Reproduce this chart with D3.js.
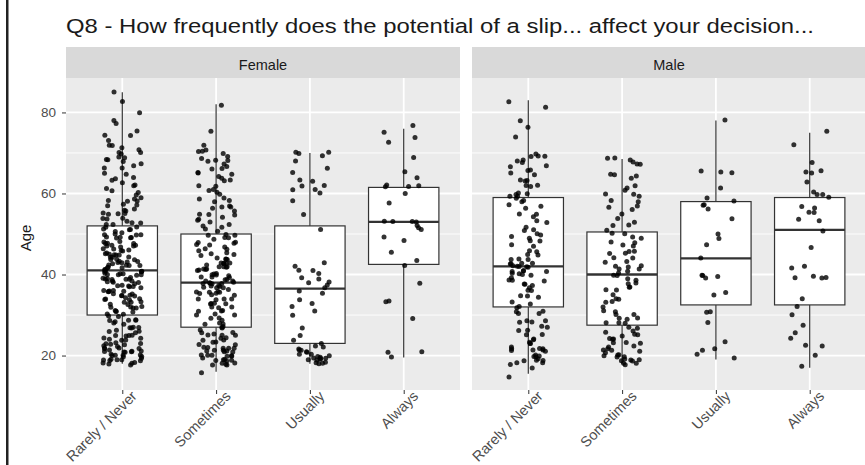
<!DOCTYPE html>
<html>
<head>
<meta charset="utf-8">
<script src="https://cdn.jsdelivr.net/npm/d3@7"></script>
<style>
  html, body { margin: 0; padding: 0; background: #fff; }
  svg { display: block; font-family: "Liberation Sans", Arial, sans-serif; }
</style>
</head>
<body>
<svg id="chart" width="865" height="465"></svg>
<script>
// ---------------- DATA ----------------
const titleText = "Q8 - How frequently does the potential of a slip... affect your decision...";
const facets = ["Female", "Male"];
const categories = ["Rarely / Never", "Sometimes", "Usually", "Always"];
const yTicks = [20, 40, 60, 80];
const yMinorTicks = [30, 50, 70];
const yLabel = "Age";

// Box statistics: [lowerWhisker, Q1, median, Q3, upperWhisker]
const femaleBoxes = [
  [18, 30, 41, 52, 85],
  [16, 27, 38, 50, 82],
  [18, 23, 36.5, 52, 70],
  [19.5, 42.5, 53, 61.5, 76]
];
const maleBoxes = [
  [15.5, 32, 42, 59, 83],
  [18, 27.5, 40, 50.5, 68.5],
  [19, 32.5, 44, 58, 78],
  [17, 32.5, 51, 59, 75]
];

// Individual ages as [age, count]
const femaleRarely = [[18,5],[19,7],[20,7],[21,7],[22,6],[23,5],[24,5],[25,4],[26,4],[27,4],[28,3],[29,4],
  [30,4],[31,4],[32,5],[33,5],[34,5],[35,6],[36,6],[37,6],[38,6],[39,7],[40,7],
  [41,7],[42,7],[43,6],[44,6],[45,6],[46,5],[47,5],[48,5],[49,5],[50,5],[51,4],[52,4],
  [53,3],[54,3],[55,4],[56,3],[57,3],[58,3],[59,2],[60,2],[61,2],[62,2],[63,2],[64,2],[65,2],[66,2],[67,2],
  [68,3],[69,2],[70,3],[71,2],[72,2],[73,1],[74,2],[75,1],[77,1],[78,1],[80,1],[83,1],[85,1]];
const femaleSometimes = [[16,1],[18,5],[19,6],[20,6],[21,6],[22,5],[23,4],[24,4],[25,4],[26,3],
  [27,3],[28,3],[29,3],[30,3],[31,3],[32,3],[33,4],[34,4],[35,4],[36,5],[37,6],
  [38,8],[39,5],[40,5],[41,5],[42,5],[43,5],[44,4],[45,4],[46,3],[47,3],[48,3],[49,3],[50,3],
  [51,2],[52,3],[53,2],[54,2],[55,3],[56,2],[57,3],[58,2],[59,2],[60,2],[61,2],[62,2],[63,2],[64,2],
  [65,3],[66,2],[67,2],[68,3],[69,2],[70,3],[71,1],[72,1],[75,1],[82,1]];
const femaleUsually = [[70,3],[69,1],[68,1],[66,1],[65,1],[63,2],[62,2],[61,2],[60,1],[58,1],[55,1],[51,1],
  [43,1],[42,1],[41,2],[40,1],[39,2],[38,2],[37,2],[36,1],[35,1],[34,1],[33,1],[32,1],[31,1],[30,1],
  [27,1],[25,1],[24,1],[23,1],[22,3],[21,4],[20,5],[19,6],[18,4]];
const femaleAlways = [[76.5,1],[75,1],[74,1],[73,1],[68.5,1],[65.5,1],[64,1],[62,4],[60,1],[58,1],
  [53,4],[51.5,2],[52,1],[49.5,1],[48,1],[45.5,1],[43.5,1],[42,1],[38,1],[33.5,2],[29,1],[21,2],[19.5,1]];
const maleRarely = [[15,1],[17,1],[18,3],[19,4],[20,4],[21,4],[22,4],[23,3],[24,2],[25,2],[26,2],[27,2],[28,2],
  [29,2],[30,2],[31,2],[32,2],[33,2],[34,1],[35,2],[36,2],[37,2],[38,3],[39,3],[40,4],[41,4],[42,5],[43,4],
  [44,3],[45,2],[46,2],[47,2],[48,2],[49,2],[50,2],[51,2],[52,1],[53,2],[54,1],[55,2],[56,1],[57,2],[58,2],
  [59,3],[60,3],[62,3],[63,3],[65,2],[66,2],[67,2],[68,3],[69,3],[70,1],[74,1],[76,1],[78,1],[81,1],[83,1]];
const maleSometimes = [[18,3],[19,5],[20,5],[21,4],[22,3],[23,3],[24,3],[25,3],[26,2],[27,2],[28,3],[29,3],
  [30,2],[31,2],[32,1],[33,2],[34,2],[35,1],[36,2],[37,2],[38,2],[39,2],[40,3],[41,3],[42,3],[43,2],[44,2],
  [45,2],[46,2],[47,2],[48,2],[49,2],[50,2],[51,1],[52,2],[53,1],[54,1],[55,1],[56,1],[57,2],[58,2],[59,1],
  [60,2],[61,2],[62,1],[64,2],[65,2],[67,2],[68,2],[69,2]];
const maleUsually = [[78,1],[65.5,2],[65,1],[61.5,1],[58.5,2],[57,2],[56,1],[54,1],[50,1],[49,1],[47,1],[44,1],
  [40,2],[39.5,1],[39,1],[35.5,1],[35,1],[30.5,2],[28.5,1],[23,1],[22,1],[21,1],[20,1],[19,1]];
const maleAlways = [[75,1],[72,1],[67.5,1],[65.5,2],[65,1],[63,1],[60,2],[59.5,1],[59,1],[56.5,2],[55,2],
  [53.5,2],[50.5,1],[46.5,1],[42,2],[39,2],[39.5,2],[34,1],[32,1],[30,1],[27.5,1],[26,1],[24,1],[22.5,1],
  [22,1],[20,1],[17,1]];

const femalePoints = [femaleRarely, femaleSometimes, femaleUsually, femaleAlways];
const malePoints = [maleRarely, maleSometimes, maleUsually, maleAlways];

// ---------------- DRAW ----------------
const svg = d3.select("#chart");
const panelTop = 78, panelBottom = 390, stripTop = 47;
const panels = [
  { name: facets[0], x0: 66, x1: 460, boxes: femaleBoxes, points: femalePoints, seed: 0.137 },
  { name: facets[1], x0: 472, x1: 866, boxes: maleBoxes, points: malePoints, seed: 0.731 }
];

const y = d3.scaleLinear().domain([11.5, 88.5]).range([panelBottom, panelTop]);

// left border line
svg.append("rect").attr("x", 6).attr("y", 0).attr("width", 2.5).attr("height", 465).attr("fill", "#222");

// title
svg.append("text").attr("x", 66).attr("y", 33)
  .attr("font-size", 20.5).attr("fill", "#1a1a1a")
  .attr("textLength", 748).attr("lengthAdjust", "spacingAndGlyphs")
  .text(titleText);

// y axis title
svg.append("text")
  .attr("transform", `translate(31,${(panelTop + panelBottom) / 2 + 4}) rotate(-90)`)
  .attr("text-anchor", "middle").attr("font-size", 15).attr("fill", "#1a1a1a").text(yLabel);

// y axis
const yAxis = d3.axisLeft(y).tickValues(yTicks).tickSize(4).tickPadding(6);
const yg = svg.append("g").attr("transform", `translate(${panels[0].x0},0)`).call(yAxis);
yg.select(".domain").remove();
yg.selectAll(".tick line").attr("stroke", "#333").attr("stroke-width", 1);
yg.selectAll(".tick text").attr("font-size", 13.5).attr("fill", "#4d4d4d")
  .attr("font-family", "Liberation Sans, Arial, sans-serif");

panels.forEach(p => {
  const x = d3.scalePoint().domain(categories).range([p.x0, p.x1]).padding(0.6);
  const step = x.step();
  const g = svg.append("g");

  // strip
  g.append("rect").attr("x", p.x0).attr("y", stripTop).attr("width", p.x1 - p.x0)
    .attr("height", panelTop - stripTop).attr("fill", "#d9d9d9");
  g.append("text").attr("x", (p.x0 + p.x1) / 2).attr("y", 70)
    .attr("text-anchor", "middle").attr("font-size", 14.5).attr("fill", "#1a1a1a").text(p.name);

  // panel background
  g.append("rect").attr("x", p.x0).attr("y", panelTop).attr("width", p.x1 - p.x0)
    .attr("height", panelBottom - panelTop).attr("fill", "#ebebeb");

  // grid
  g.selectAll(".minor").data(yMinorTicks).join("line")
    .attr("x1", p.x0).attr("x2", p.x1).attr("y1", d => y(d)).attr("y2", d => y(d))
    .attr("stroke", "#fff").attr("stroke-width", 0.9);
  g.selectAll(".major").data(yTicks).join("line")
    .attr("x1", p.x0).attr("x2", p.x1).attr("y1", d => y(d)).attr("y2", d => y(d))
    .attr("stroke", "#fff").attr("stroke-width", 1.8);
  g.selectAll(".vmajor").data(categories).join("line")
    .attr("x1", d => x(d)).attr("x2", d => x(d)).attr("y1", panelTop).attr("y2", panelBottom)
    .attr("stroke", "#fff").attr("stroke-width", 1.8);

  // boxes
  const bw = step * 0.75;
  categories.forEach((c, i) => {
    const [lo, q1, med, q3, hi] = p.boxes[i];
    const cx = x(c);
    g.append("line").attr("x1", cx).attr("x2", cx).attr("y1", y(q3)).attr("y2", y(hi))
      .attr("stroke", "#333").attr("stroke-width", 1.2);
    g.append("line").attr("x1", cx).attr("x2", cx).attr("y1", y(q1)).attr("y2", y(lo))
      .attr("stroke", "#333").attr("stroke-width", 1.2);
    g.append("rect").attr("x", cx - bw / 2).attr("y", y(q3)).attr("width", bw)
      .attr("height", y(q1) - y(q3)).attr("fill", "#fff").attr("stroke", "#333").attr("stroke-width", 1.2);
    g.append("line").attr("x1", cx - bw / 2).attr("x2", cx + bw / 2).attr("y1", y(med)).attr("y2", y(med))
      .attr("stroke", "#333").attr("stroke-width", 2.3);
  });

  // jittered points (geom_jitter style, seeded)
  const rnd = d3.randomUniform.source(d3.randomLcg(p.seed))(-1, 1);
  categories.forEach((c, i) => {
    const pts = [];
    p.points[i].forEach(([age, n]) => { for (let k = 0; k < n; k++) pts.push(age); });
    const cx = x(c);
    g.selectAll(null).data(pts).join("circle")
      .attr("cx", () => cx + rnd() * 0.21 * step)
      .attr("cy", d => y(d + rnd() * 0.4))
      .attr("r", 2.5).attr("fill", "#000").attr("fill-opacity", 0.8);
  });

  // x axis
  const xAxis = d3.axisBottom(x).tickSize(4).tickPadding(0);
  const xg = svg.append("g").attr("transform", `translate(0,${panelBottom})`).call(xAxis);
  xg.select(".domain").remove();
  xg.selectAll(".tick line").attr("stroke", "#333");
  xg.selectAll(".tick text").attr("font-size", 14.5).attr("fill", "#4d4d4d")
    .attr("font-family", "Liberation Sans, Arial, sans-serif")
    .attr("text-anchor", "end").attr("y", 0).attr("dy", null)
    .attr("transform", "translate(15,7) rotate(-45)");
});
</script>
</body>
</html>
